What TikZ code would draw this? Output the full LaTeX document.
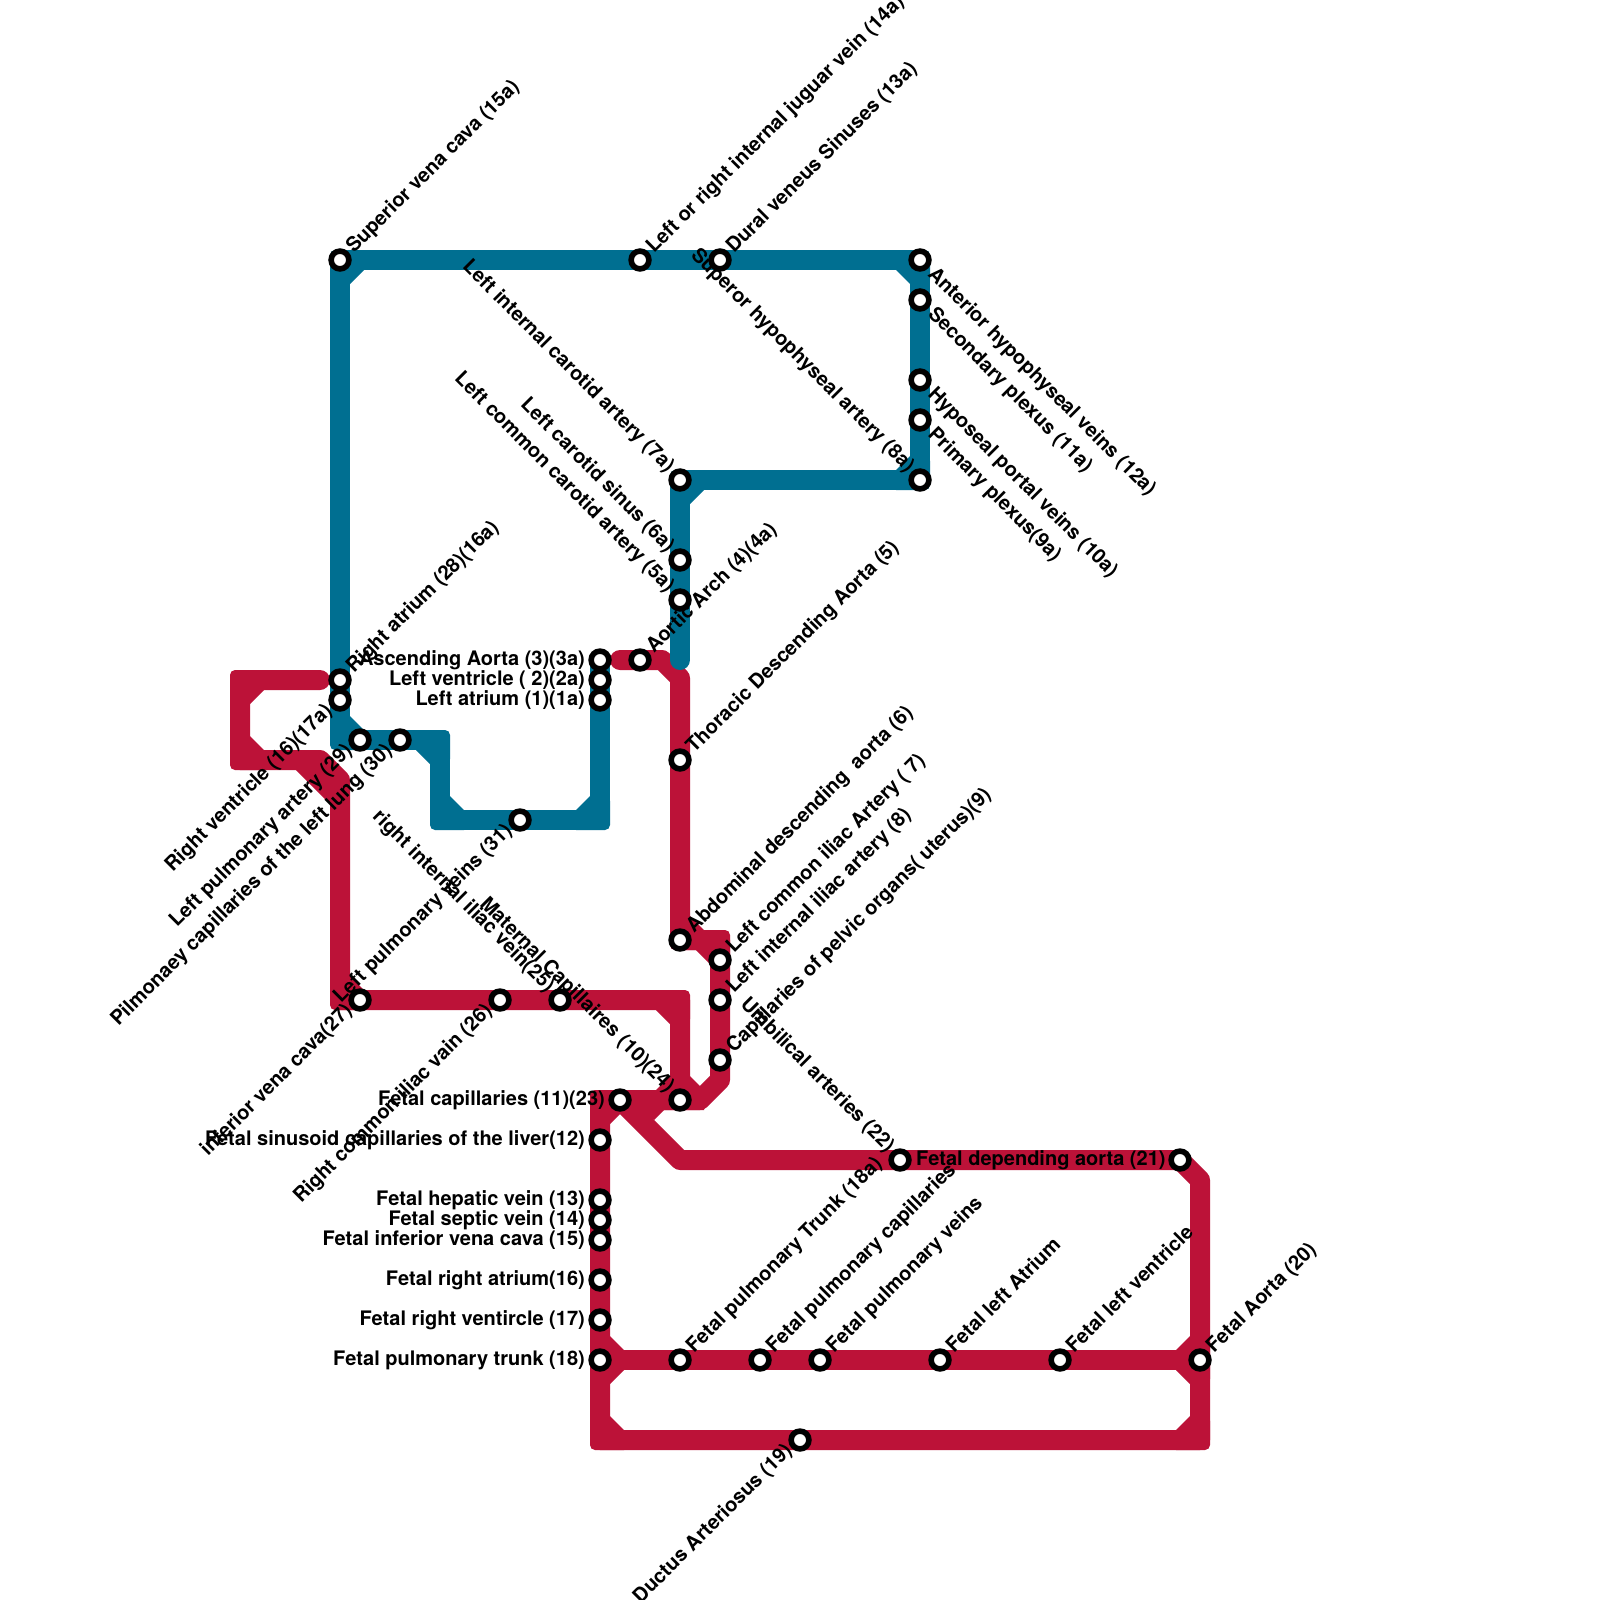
\documentclass[tikz,border=0pt]{standalone}
\usepackage{fontspec}
\setmainfont{TeX Gyre Heros}
\definecolor{bluel}{HTML}{006F91}
\definecolor{redl}{HTML}{BC1238}
\definecolor{labelc}{HTML}{000000}
\newcommand{\chamf}[4]{%
  \begin{scope}[shift={(#1)},xscale=#2,yscale=#3]
    \fill[#4] (24,-10) [rounded corners=5pt] -- (-10,-10) -- (-10,24) [sharp corners] -- (10,24) -- (24,10) -- cycle;
  \end{scope}}
\newcommand{\stn}[2]{\node[stationdot] (#1) at (#2) {};}
\tikzset{
  metro/.style={line width=20pt,line cap=round,line join=round},
  stationdot/.style={circle,draw=black,fill=white,line width=5.6pt,minimum size=17.8pt,inner sep=0pt,outer sep=0pt},
  lab/.style={text=labelc,inner sep=0pt,font=\fontsize{20}{24}\selectfont\bfseries},
  ur/.style={lab,rotate=45,anchor=base west},
  dl/.style={lab,rotate=45,anchor=base east},
  dr/.style={lab,rotate=-45,anchor=base west},
  ul/.style={lab,rotate=-45,anchor=base east},
  hl/.style={lab,anchor=base east},
  hr/.style={lab,anchor=base west},
}
\begin{document}
\begin{tikzpicture}[x=1pt,y=-1pt]
\clip (0,0) rectangle (1600,1600);
\fill[white] (0,0) rectangle (1600,1600);
% way points, red
\coordinate (r1) at (320,680); \coordinate (r2) at (240,680); \coordinate (r3) at (240,760);
\coordinate (r4) at (320,760); \coordinate (r5) at (340,780); \coordinate (r6) at (340,1000);
\coordinate (r7) at (680,1000); \coordinate (r8) at (680,1100);
\coordinate (r9) at (300,760); \coordinate (r10) at (340,800);
\coordinate (q1) at (620,660); \coordinate (q2) at (662,660); \coordinate (q3) at (680,678);
\coordinate (q4) at (680,940); \coordinate (q5) at (720,940); \coordinate (q6) at (720,1080);
\coordinate (q7) at (700,1100); \coordinate (q8) at (600,1100); \coordinate (q9) at (600,1440);
\coordinate (q10) at (1200,1440); \coordinate (q11) at (1200,1180); \coordinate (q12) at (1180,1160);
\coordinate (q13) at (680,1160); \coordinate (q14) at (620,1100);
\coordinate (q15) at (600,1360); \coordinate (q16) at (1200,1360);
% way points, blue
\coordinate (b1) at (340,700); \coordinate (b2) at (340,260); \coordinate (b3) at (920,260);
\coordinate (b4) at (920,480); \coordinate (b5) at (680,480); \coordinate (b6) at (680,660);
\coordinate (c1) at (340,740); \coordinate (c2) at (440,740); \coordinate (c3) at (440,820);
\coordinate (c4) at (600,820); \coordinate (c5) at (600,660);
% red line
\draw[metro,redl] (r1) -- (r2) -- (r3) -- (r4) -- (r5) -- (r6) -- (r7) -- (r8);
\draw[metro,redl,line cap=butt] (r9) -- (r10);
\draw[metro,redl] (q1) -- (q2) -- (q3) -- (q4) -- (q5) -- (q6) -- (q7) -- (q8) -- (q9) -- (q10) -- (q11) -- (q12) -- (q13) -- (q14);
\draw[metro,redl] (q15) -- (q16);
\fill[redl] (640,1110) -- (664,1110) -- (654,1120) -- cycle;
\chamf{r2}{1}{1}{redl}
\chamf{r3}{1}{-1}{redl}
\chamf{r6}{1}{-1}{redl}
\chamf{r7}{-1}{1}{redl}
\chamf{r8}{-1}{-1}{redl}
\chamf{r8}{1}{-1}{redl}
\chamf{q4}{1}{-1}{redl}
\chamf{q5}{-1}{1}{redl}
\chamf{q8}{1}{1}{redl}
\chamf{q15}{1}{-1}{redl}
\chamf{q15}{1}{1}{redl}
\chamf{q9}{1}{-1}{redl}
\chamf{q10}{-1}{-1}{redl}
\chamf{q16}{-1}{-1}{redl}
\chamf{q16}{-1}{1}{redl}
% blue line
\draw[metro,bluel] (b1) -- (b2) -- (b3) -- (b4) -- (b5) -- (b6);
\draw[metro,bluel] (b1) -- (c1) -- (c2) -- (c3) -- (c4) -- (c5);
\chamf{b2}{1}{1}{bluel}
\chamf{b3}{-1}{1}{bluel}
\chamf{b4}{-1}{-1}{bluel}
\chamf{b5}{1}{1}{bluel}
\chamf{c1}{1}{-1}{bluel}
\chamf{c2}{-1}{1}{bluel}
\chamf{c3}{1}{-1}{bluel}
\chamf{c4}{-1}{-1}{bluel}
% stations
\stn{s15a}{340,260} \stn{s14a}{640,260} \stn{s13a}{720,260}
\stn{s12a}{920,260} \stn{s11a}{920,300} \stn{s10a}{920,380} \stn{s9a}{920,420} \stn{s8a}{920,480}
\stn{s7a}{680,480} \stn{s6a}{680,560} \stn{s5a}{680,600} \stn{s4a}{640,660}
\stn{s3a}{600,660} \stn{s2a}{600,680} \stn{s1a}{600,700}
\stn{s16a}{340,680} \stn{s17a}{340,700} \stn{s29}{360,740} \stn{s30}{400,740} \stn{s31}{520,820}
\stn{s5}{680,760} \stn{s6}{680,940} \stn{s7}{720,960} \stn{s8}{720,1000} \stn{s9}{720,1060}
\stn{s27}{360,1000} \stn{s26}{500,1000} \stn{s25}{560,1000}
\stn{s23}{620,1100} \stn{s24}{680,1100}
\stn{s12}{600,1140} \stn{s13}{600,1200} \stn{s14}{600,1220} \stn{s15}{600,1240} \stn{s16}{600,1280} \stn{s17}{600,1320} \stn{s18}{600,1360}
\stn{s22}{900,1160} \stn{s21}{1180,1160}
\stn{s18a}{680,1360} \stn{sfpc}{760,1360} \stn{sfpv}{820,1360} \stn{sfla}{940,1360} \stn{sflv}{1060,1360} \stn{s20}{1200,1360}
\stn{s19}{800,1440}
% labels
\node[ur] at ([shift={(14,-6)}]s15a.center) {Superior vena cava (15a)};
\node[ur] at ([shift={(14,-6)}]s14a.center) {Left or right internal juguar vein (14a)};
\node[ur] at ([shift={(14,-6)}]s13a.center) {Dural veneus Sinuses (13a)};
\node[ur] at ([shift={(14,-6)}]s16a.center) {Right atrium (28)(16a)};
\node[ur] at ([shift={(14,-6)}]s4a.center) {Aortic Arch (4)(4a)};
\node[ur] at ([shift={(14,-6)}]s5.center) {Thoracic Descending Aorta (5)};
\node[ur] at ([shift={(14,-6)}]s6.center) {Abdominal descending\ \ aorta (6)};
\node[ur] at ([shift={(14,-6)}]s7.center) {Left common iliac Artery ( 7)};
\node[ur] at ([shift={(14,-6)}]s8.center) {Left internal iliac artery (8)};
\node[ur] at ([shift={(14,-6)}]s9.center) {Capillaries of pelvic organs( uterus)(9)};
\node[ur] at ([shift={(14,-6)}]s18a.center) {Fetal pulmonary Trunk (18a)};
\node[ur] at ([shift={(14,-6)}]sfpc.center) {Fetal pulmonary capillaries};
\node[ur] at ([shift={(14,-6)}]sfpv.center) {Fetal pulmonary veins};
\node[ur] at ([shift={(14,-6)}]sfla.center) {Fetal left Atrium};
\node[ur] at ([shift={(14,-6)}]sflv.center) {Fetal left ventricle};
\node[ur] at ([shift={(14,-6)}]s20.center) {Fetal Aorta (20)};
\node[dl] at ([shift={(-7,12)}]s17a.center) {Right ventricle (16)(17a)};
\node[dl] at ([shift={(-7,12)}]s29.center) {Left pulmonary artery (29)};
\node[dl] at ([shift={(-7,12)}]s30.center) {Pilmonaey capillaries of the left lung (30)};
\node[dl] at ([shift={(-7,12)}]s31.center) {Left pulmonary veins (31)};
\node[dl] at ([shift={(-7,12)}]s27.center) {inferior vena cava(27)};
\node[dl] at ([shift={(-7,12)}]s26.center) {Right common iliac vain (26)};
\node[dl] at ([shift={(-7,12)}]s19.center) {Ductus Arteriosus (19)};
\node[ul] at ([shift={(-13,-7)}]s7a.center) {Left internal carotid artery (7a)};
\node[ul] at ([shift={(-13,-7)}]s6a.center) {Left carotid sinus (6a)};
\node[ul] at ([shift={(-13,-7)}]s5a.center) {Left common carotid artery (5a)};
\node[ul] at ([shift={(-13,-7)}]s8a.center) {Superor hypophyseal artery (8a)};
\node[ul] at ([shift={(-13,-7)}]s25.center) {right internal iliac vein(25)};
\node[ul] at ([shift={(-13,-7)}]s24.center) {Maternal Capillaires (10)(24)};
\node[ul] at ([shift={(-13,-7)}]s22.center) {Umbilical arteries (22)};
\node[dr] at ([shift={(7,15)}]s12a.center) {Anterior hypophyseal veins (12a)};
\node[dr] at ([shift={(7,15)}]s11a.center) {Secondary plexus (11a)};
\node[dr] at ([shift={(7,15)}]s10a.center) {Hyposeal portal veins (10a)};
\node[dr] at ([shift={(7,15)}]s9a.center) {Primary plexus(9a)};
\node[hl] at ([shift={(-15,5)}]s3a.center) {Ascending Aorta (3)(3a)};
\node[hl] at ([shift={(-15,5)}]s2a.center) {Left ventricle ( 2)(2a)};
\node[hl] at ([shift={(-15,5)}]s1a.center) {Left atrium (1)(1a)};
\node[hl] at ([shift={(-15,5)}]s23.center) {Fetal capillaries (11)(23)};
\node[hl] at ([shift={(-15,5)}]s12.center) {Fetal sinusoid capillaries of the liver(12)};
\node[hl] at ([shift={(-15,5)}]s13.center) {Fetal hepatic vein (13)};
\node[hl] at ([shift={(-15,5)}]s14.center) {Fetal septic vein (14)};
\node[hl] at ([shift={(-15,5)}]s15.center) {Fetal inferior vena cava (15)};
\node[hl] at ([shift={(-15,5)}]s16.center) {Fetal right atrium(16)};
\node[hl] at ([shift={(-15,5)}]s17.center) {Fetal right ventircle (17)};
\node[hl] at ([shift={(-15,5)}]s18.center) {Fetal pulmonary trunk (18)};
\node[hr] at ([shift={(16,5)}]s22.center) {Fetal depending aorta (21)};
\end{tikzpicture}
\end{document}
